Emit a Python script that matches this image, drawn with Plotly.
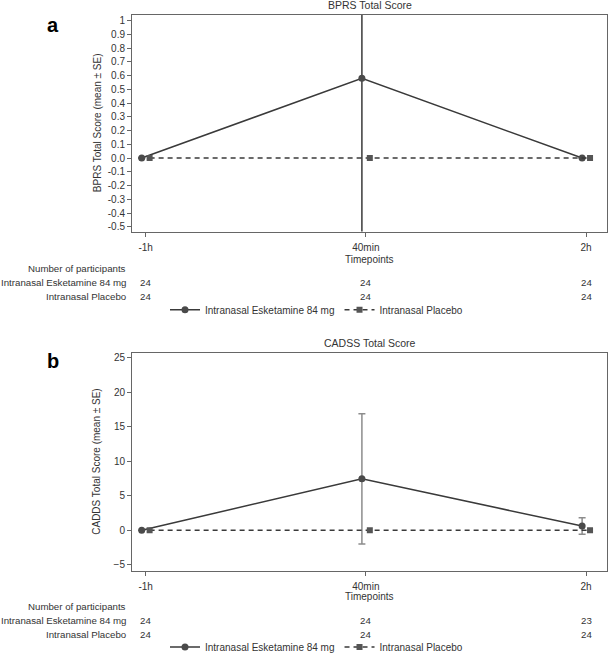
import plotly.graph_objects as go

# ---------------- data ----------------
timepoints = ["-1h", "40min", "2h"]
series_names = ["Intranasal Esketamine 84 mg", "Intranasal Placebo"]

bprs_esk_mean = [0.0, 0.58, 0.0]
bprs_esk_se = [None, 1.5, None]
bprs_pla_mean = [0.0, 0.0, 0.0]

cadss_esk_mean = [0.0, 7.45, 0.6]
cadss_esk_se = [None, 9.45, 1.2]
cadss_pla_mean = [0.0, 0.0, 0.0]

bprs_n_esk = [24, 24, 24]
bprs_n_pla = [24, 24, 24]
cadss_n_esk = [24, 24, 23]
cadss_n_pla = [24, 24, 24]

bprs_ticks = [1, 0.9, 0.8, 0.7, 0.6, 0.5, 0.4, 0.3, 0.2, 0.1, 0.0, -0.1, -0.2, -0.3, -0.4, -0.5]
bprs_ticktext = ["1", "0.9", "0.8", "0.7", "0.6", "0.5", "0.4", "0.3", "0.2", "0.1", "0.0",
                 "-0.1", "-0.2", "-0.3", "-0.4", "-0.5"]
cadss_ticks = [25, 20, 15, 10, 5, 0, -5]

# ---------------- layout helpers ----------------
W, H = 609, 662
FONT = "Liberation Sans, Arial, sans-serif"
TXT = "#333333"
AX = "#666666"
LINE = "#3a3a3a"
DODGE = 0.018


def px(x):
    return x / W


def py(y):
    return 1 - y / H


idx = list(range(len(timepoints)))
xs_esk = [i - DODGE for i in idx]
xs_pla = [i + DODGE for i in idx]

fig = go.Figure()

panels = [
    dict(xa="x", ya="y", legend="legend", esk=bprs_esk_mean, se=bprs_esk_se, pla=bprs_pla_mean,
         errcol="#3a3a3a"),
    dict(xa="x2", ya="y2", legend="legend2", esk=cadss_esk_mean, se=cadss_esk_se, pla=cadss_pla_mean,
         errcol="#8c8c8c"),
]

for p in panels:
    fig.add_trace(go.Scatter(
        x=xs_esk, y=p["esk"], xaxis=p["xa"], yaxis=p["ya"], legend=p["legend"],
        name=series_names[0], mode="lines+markers",
        line=dict(color=LINE, width=1.5),
        marker=dict(symbol="circle", size=7, color="#4a4a4a"),
        error_y=dict(type="data", array=p["se"], visible=True, color=p["errcol"],
                     thickness=1.5, width=3.5),
    ))
    fig.add_trace(go.Scatter(
        x=xs_pla, y=p["pla"], xaxis=p["xa"], yaxis=p["ya"], legend=p["legend"],
        name=series_names[1], mode="lines+markers",
        line=dict(color=LINE, width=1.5, dash="5px,4px"),
        marker=dict(symbol="square", size=6, color="#555555"),
    ))

xdom = [px(132), px(607)]
ydom_a = [py(234), py(15)]
ydom_b = [py(576.7), py(356.7)]

axis_common = dict(showline=True, linecolor=AX, linewidth=1, mirror=True, ticks="outside",
                   ticklen=4, tickcolor=AX, showgrid=False, zeroline=False,
                   tickfont=dict(family=FONT, size=10, color=TXT))

fig.update_layout(
    width=W, height=H, margin=dict(l=0, r=0, t=0, b=0),
    paper_bgcolor="white", plot_bgcolor="white",
    font=dict(family=FONT, size=10, color=TXT),
    xaxis=dict(domain=xdom, anchor="y", range=[-0.062, 2.095], tickvals=idx, ticktext=timepoints,
               ticklabelstandoff=2, **axis_common),
    yaxis=dict(domain=ydom_a, anchor="x", range=[-0.534, 1.041], tickvals=bprs_ticks,
               ticktext=bprs_ticktext, **axis_common),
    xaxis2=dict(domain=xdom, anchor="y2", range=[-0.062, 2.095], tickvals=idx, ticktext=timepoints,
                ticklabelstandoff=2, **axis_common),
    yaxis2=dict(domain=ydom_b, anchor="x2", range=[-5.86, 25.72], tickvals=cadss_ticks,
                **axis_common),
    legend=dict(orientation="h", x=px(165), y=py(313), xanchor="left", yanchor="middle",
                font=dict(family=FONT, size=10, color=TXT), bgcolor="rgba(0,0,0,0)",
                borderwidth=0, itemclick=False),
    legend2=dict(orientation="h", x=px(165), y=py(654), xanchor="left", yanchor="middle",
                 font=dict(family=FONT, size=10, color=TXT), bgcolor="rgba(0,0,0,0)",
                 borderwidth=0, itemclick=False),
)

ann = []


def text(x, y, s, size=10, xanchor="center", bold=False, xref="paper", angle=0):
    ann.append(dict(x=x if xref != "paper" else px(x), y=py(y), xref=xref, yref="paper",
                    text=f"<b>{s}</b>" if bold else s, showarrow=False,
                    xanchor=xanchor, yanchor="middle", textangle=angle,
                    font=dict(family=FONT, size=size, color="#000000" if bold else TXT)))


# panel letters and titles
text(52.5, 25, "a", size=20, bold=True)
text(52.5, 365, "b", size=20, bold=True)
text(369.5, 5.5, "BPRS Total Score", size=10.5)
text(369.5, 346.7, "CADSS Total Score", size=10.5)
# y axis titles
text(97, 124.5, "BPRS Total Score (mean ± SE)", angle=-90)
text(97, 466.7, "CADDS Total Score (mean ± SE)", angle=-90)
# x axis titles
text(369.5, 262, "Timepoints")
text(369.5, 603, "Timepoints")

# participant tables
tables = [
    dict(xref="x", y0=271, n_esk=bprs_n_esk, n_pla=bprs_n_pla),
    dict(xref="x2", y0=612.7, n_esk=cadss_n_esk, n_pla=cadss_n_pla),
]
for t in tables:
    text(128, t["y0"], "Number of participants", xanchor="right", size=9.7)
    text(128, t["y0"] + 14.5, series_names[0], xanchor="right", size=9.7)
    text(128, t["y0"] + 29, series_names[1], xanchor="right", size=9.7)
    for i in idx:
        text(i, t["y0"] + 14.5, str(t["n_esk"][i]), xref=t["xref"], size=9.7)
        text(i, t["y0"] + 29, str(t["n_pla"][i]), xref=t["xref"], size=9.7)

fig.update_layout(annotations=ann)

fig.write_html(
    "out.html",
    config={"responsive": False, "displayModeBar": False},
    post_script="document.body.style.margin='0';document.body.style.overflow='hidden';",
)
